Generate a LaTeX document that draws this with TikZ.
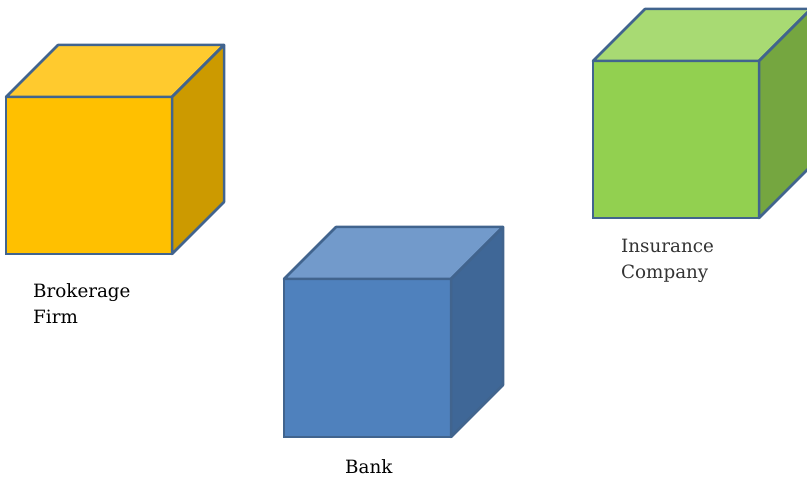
\documentclass[tikz,border=0pt]{standalone}
\usepackage{fontspec}
\setmainfont{DejaVu Serif}

\definecolor{edge}{HTML}{41648E}
\definecolor{goldfront}{HTML}{FFC000}
\definecolor{goldtop}{HTML}{FFCA2E}
\definecolor{goldside}{HTML}{CC9A00}
\definecolor{bluefront}{HTML}{4F81BD}
\definecolor{bluetop}{HTML}{729ACB}
\definecolor{blueside}{HTML}{3F6797}
\definecolor{greenfront}{HTML}{92D050}
\definecolor{greentop}{HTML}{A8DA73}
\definecolor{greenside}{HTML}{75A640}

\begin{document}
\begin{tikzpicture}[x=1pt, y=-1pt]
    \clip (0, 0) rectangle (807, 478);

    \tikzstyle{front} = [rectangle, draw = edge, line width = 2.5pt, inner sep = 0pt, outer sep = 0pt, minimum width = 166pt, minimum height = 157pt, anchor = north west]
    \tikzstyle{face} = [draw = edge, line width = 2.5pt, line join = round]
    \tikzstyle{label} = [anchor = base west, align = left, inner sep = 0pt, font = \fontsize{18.3}{26}\selectfont]

    % front faces
    \node[front, fill = goldfront] (broker) at (6, 97) {};
    \node[front, fill = bluefront, minimum width = 167pt, minimum height = 158pt] (bank) at (284, 279) {};
    \node[front, fill = greenfront] (insurer) at (593, 61) {};

    % top and side faces
    \draw[face, fill = goldtop] (broker.north west) -- ++(52, -52) -- ++(166, 0) -- (broker.north east) -- cycle;
    \draw[face, fill = goldside] (broker.north east) -- ++(52, -52) -- ++(0, 157) -- (broker.south east) -- cycle;

    \draw[face, fill = bluetop] (bank.north west) -- ++(52, -52) -- ++(167, 0) -- (bank.north east) -- cycle;
    \draw[face, fill = blueside] (bank.north east) -- ++(52, -52) -- ++(0, 158) -- (bank.south east) -- cycle;

    \draw[face, fill = greentop] (insurer.north west) -- ++(52, -52) -- ++(166, 0) -- (insurer.north east) -- cycle;
    \draw[face, fill = greenside] (insurer.north east) -- ++(52, -52) -- ++(0, 157) -- (insurer.south east) -- cycle;

    % names, anchored on the baseline of the last line
    \node[label] (brokername) at (33, 324) {Brokerage\\Firm};
    \node[label] (bankname) at (345, 474) {Bank};
    \node[label, text = black!80] (insurername) at (621, 279) {Insurance\\Company};
\end{tikzpicture}
\end{document}
